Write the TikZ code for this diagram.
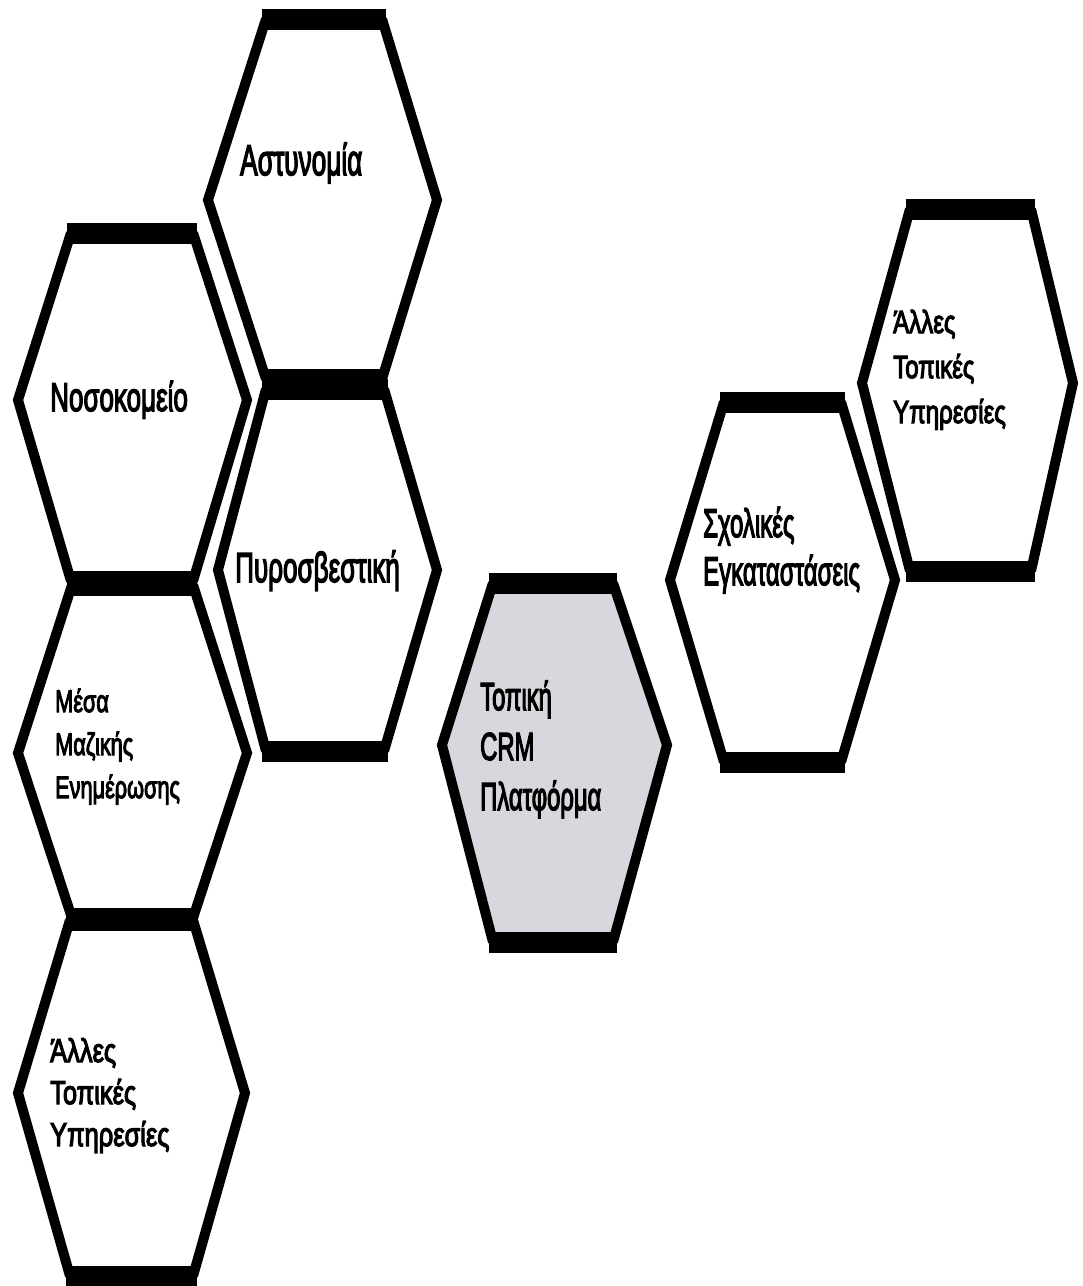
\documentclass[tikz,border=0pt]{standalone}
\usepackage{fontspec}
\setmainfont{Liberation Sans}[FakeBold=4]
\usepackage{graphicx}
\definecolor{crmgray}{RGB}{214,216,222}
\newcommand{\hx}[2]{\scalebox{#1}[1]{#2}}
\tikzset{
  hexside/.style={line width=10pt, line join=miter, line cap=butt},
  hexbar/.style={line width=21pt, line cap=butt},
  lbl/.style={inner sep=0pt, anchor=base west, align=left, text=black}
}
% #1 fill, #2 xl, #3 xr, #4 ytop, #5 ybottom, #6 xLeftVertex, #7 xRightVertex, #8 ymid
\newcommand{\hexa}[8]{%
  \path[fill=#1] (#2,#4) -- (#3,#4) -- (#7,#8) -- (#3,#5) -- (#2,#5) -- (#6,#8) -- cycle;
  \draw[hexside] (#2,#4) -- (#6,#8) -- (#2,#5);
  \draw[hexside] (#3,#4) -- (#7,#8) -- (#3,#5);
  \draw[hexbar] (#2-4,#4) -- (#3+4,#4);
  \draw[hexbar] (#2-4,#5) -- (#3+4,#5);
}
\begin{document}
\begin{tikzpicture}[x=1pt,y=-1pt]
\fill[white] (0,0) rectangle (1083,1286);
\useasboundingbox (0,0) rectangle (1083,1286);

% hexagons
\hexa{none}{266}{382}{19}{379}{208}{437}{200}     % Astynomia
\hexa{none}{266}{384}{389}{751}{218}{437}{570}    % Pyrosvestiki
\hexa{none}{71}{193}{233}{581}{18}{247}{400}      % Nosokomeio
\hexa{none}{72}{193}{585}{918}{18}{247}{753}      % Mesa
\hexa{none}{70}{193}{920}{1276}{18}{245}{1093}    % Alles left
\hexa{crmgray}{493}{613}{583}{942}{442}{667}{745} % CRM
\hexa{none}{724}{841}{402}{762}{670}{895}{580}    % Scholikes
\hexa{none}{910}{1031}{209}{571}{862}{1073}{383}  % Alles right

% labels (anchor = baseline of the last line)
\node[lbl, font=\fontsize{43}{43}\selectfont] (ast) at (240,175) {\hx{0.61}{Αστυνομία}};
\node[lbl, font=\fontsize{40}{40}\selectfont] (nos) at (50,411) {\hx{0.65}{Νοσοκομείο}};
\node[lbl, font=\fontsize{42}{42}\selectfont] (pyr) at (235,582) {\hx{0.62}{Πυροσβεστική}};
\node[lbl, font=\fontsize{31}{43}\selectfont] (mme) at (55,798) {\hx{0.70}{Μέσα}\\\hx{0.70}{Μαζικής}\\\hx{0.70}{Ενημέρωσης}};
\node[lbl, font=\fontsize{33}{42}\selectfont] (allL) at (50,1146) {\hx{0.77}{Άλλες}\\\hx{0.77}{Τοπικές}\\\hx{0.77}{Υπηρεσίες}};
\node[lbl, font=\fontsize{39}{50}\selectfont] (crm) at (480,810) {\hx{0.61}{Τοπική}\\\hx{0.61}{CRM}\\\hx{0.61}{Πλατφόρμα}};
\node[lbl, font=\fontsize{40}{48}\selectfont] (sch) at (703,585) {\hx{0.60}{Σχολικές}\\\hx{0.60}{Εγκαταστάσεις}};
\node[lbl, font=\fontsize{32}{45}\selectfont] (allR) at (893,423) {\hx{0.75}{Άλλες}\\\hx{0.75}{Τοπικές}\\\hx{0.75}{Υπηρεσίες}};
\end{tikzpicture}
\end{document}
